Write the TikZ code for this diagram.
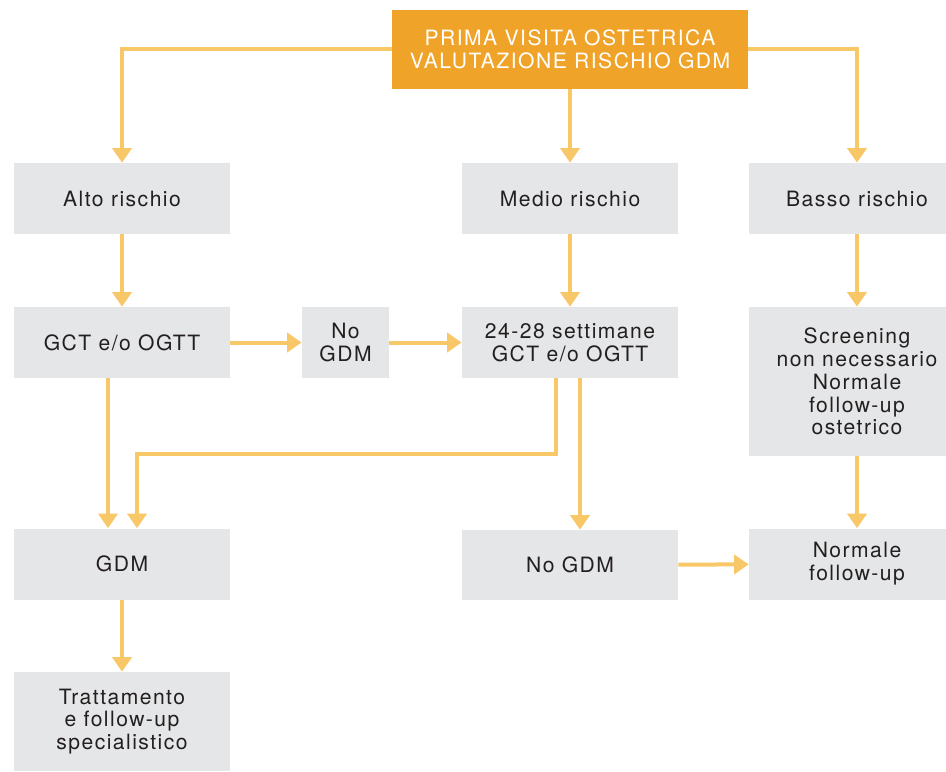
\documentclass[tikz,border=0pt]{standalone}
\usepackage{fontspec}
\newfontfamily\boxfont{TeX Gyre Heros}[LetterSpace=7]
\usepackage{xcolor}
\usetikzlibrary{arrows.meta, positioning}

\definecolor{headorange}{HTML}{F0A329}
\definecolor{linkyellow}{HTML}{F7C768}
\definecolor{boxgray}{HTML}{E5E6E7}
\definecolor{txtdark}{HTML}{231F20}

\begin{document}
\begin{tikzpicture}[
  box/.style={fill=boxgray, text=txtdark, minimum width=4.32cm,
              minimum height=1.42cm, inner sep=1pt, align=center,
              font=\boxfont\fontsize{12}{13}\selectfont},
  headbox/.style={box, fill=headorange, text=white,
                  minimum width=7.12cm, minimum height=1.58cm},
  arrow/.style={-{Triangle[width=0.38cm, length=0.29cm]},
                line width=0.08cm, draw=linkyellow}
]
\useasboundingbox (0,0) rectangle (18.92,-15.42);

\node[headbox] (visit) at (11.40,-0.99) {PRIMA VISITA OSTETRICA\\
                                          VALUTAZIONE RISCHIO GDM};
% risk row
\node[box] (alto)  at (2.44,-3.97)  {Alto rischio};
\node[box] (medio) at (11.40,-3.97) {Medio rischio};
\node[box] (basso) at (17.14,-3.97) {Basso rischio};
% tests row
\node[box] (gct)    at (2.44,-6.85)  {GCT e/o OGTT};
\node[box, minimum width=1.74cm] (nogdmA) at (6.91,-6.85) {No\\GDM};
\node[box] (weeks)  at (11.40,-6.85) {24-28 settimane\\GCT e/o OGTT};
\node[box, minimum height=2.98cm] (screen) at (17.14,-7.63)
      {Screening\\non necessario\\Normale\\follow-up\\ostetrico};
% outcome row
\node[box] (gdm)    at (2.44,-11.28)  {GDM};
\node[box, minimum height=1.40cm] (nogdmB) at (11.40,-11.30) {No GDM};
\node[box] (normal) at (17.14,-11.28) {Normale\\follow-up};
\node[box, minimum height=1.98cm] (cure) at (2.44,-14.43)
      {Trattamento\\e follow-up\\specialistico};

\draw[arrow] (visit.west) -| (alto.north);
\draw[arrow] (visit.east) -| (basso.north);
\draw[arrow] (visit) -- (medio);
\draw[arrow] (alto) -- (gct);
\draw[arrow] (medio) -- (weeks);
\draw[arrow] (basso) -- (screen);
\draw[arrow] (gct) -- (nogdmA);
\draw[arrow] (nogdmA) -- (weeks);
\draw[arrow] ([xshift=-0.28cm]gct.south) -- ([xshift=-0.28cm]gdm.north);
\draw[arrow]
([xshift=-0.28cm]weeks.south) --
([xshift=-0.28cm]weeks.south |- 0,-9.08) -|
([xshift=0.30cm]gdm.north);
\draw[arrow] ([xshift=0.20cm]weeks.south) -- ([xshift=0.20cm]nogdmB.north);
\draw[arrow] (nogdmB) -- (normal);
\draw[arrow] (screen) -- (normal);
\draw[arrow] (gdm) -- (cure);
\end{tikzpicture}
\end{document}
